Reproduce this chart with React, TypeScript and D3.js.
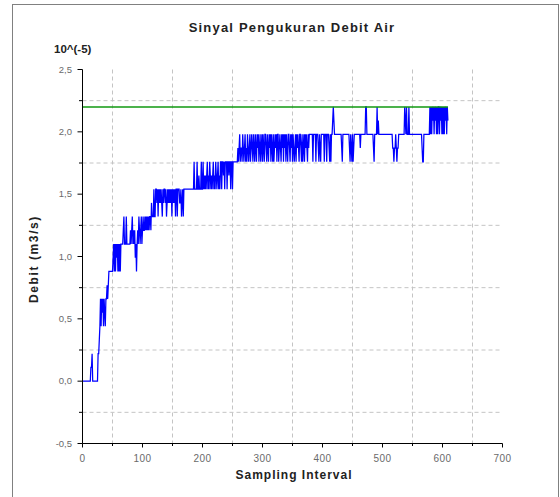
import React from 'react';
import * as d3 from 'd3';

const chartTitle = 'Sinyal Pengukuran Debit Air';
const yUnitLabel = '10^(-5)';
const yAxisTitle = 'Debit (m3/s)';
const xAxisTitle = 'Sampling Interval';

const xTicks = [0, 100, 200, 300, 400, 500, 600, 700];
const xMinorTicks = [50, 150, 250, 350, 450, 550, 650];
const yTicks = [-0.5, 0, 0.5, 1, 1.5, 2, 2.5];
const yMinorTicks = [-0.25, 0.25, 0.75, 1.25, 1.75, 2.25];

// quantised levels seen in the signal (x 10^-5 m3/s)
const debitLevels = [0, 0.11, 0.22, 0.33, 0.44, 0.55, 0.66, 0.77, 0.88, 0.99, 1.1, 1.21, 1.32, 1.43, 1.54, 1.65, 1.76, 1.87, 1.98, 2.09, 2.2];
const levelKeys = '0123456789abcdefghijk';

// one character per sample, index into debitLevels
const debitSegments = [
  '00000000000000112000000000', // 0-25
  '2234646564654667678888888', // 26-50
  '9a8a8a9a8a8a8a', // 51-64
  'aaabcaaacaaaaa', // 65-78
  'ababcabab9a8abacbabcabcbbcbcbcbcbccb', // 79-114
  'dcccecce', // 115-122
  'edecedededcedeedecdedededeceded', // 123-153
  'eceeceeeddecdece', 'eeeeeeeeeeeeeee', // 154-184
  'egeeeegeefeeegeegefe', // 185-204
  'fefgefegfefefgefegfefgefe', // 205-229
  'ggeggfgegggeggfggegge', // 230-250
  'gggggggg', // 251-258
  'hghighhgihghighgihgh', // 259-278
  'ighihgihgi', 'hgihighigh', 'igihgiihgi', 'hgihigihgi', 'ghihigiigh',
  'ihgihigihi', 'gihgiihgih', 'igihghigih', 'ihgiihgigh', 'igihihgihi', // 279-378
  'iiiii', 'giiiigiiihgihgiiiiigiiigiiihgigii', // 379-416
  'jkj', // 417-419
  'iiiiiiiiiiii', 'hg', 'iiiiiiiiiii', 'hgihgigh', 'iiiiiiiiii', 'h', 'iiiiiiii', 'kk',
  'iiiiiiiiiii', 'hg', 'iiii', 'kiji', 'iiiiiiiiiiiiiiiiiiiiii', 'hhghhihghh',
  'iiiiiiiiii', 'kjikiiik', 'iiiiiiiiiiiiiiiiiiiii', 'hgg', 'iiiiiiiiii', // 420-578
  'kikikjkikjkikikkikjkikikikjkikj', // 579-609
];
const setpointValue = 2.2;

const W = 560;
const H = 497;
const FONT = "'Liberation Sans', Arial, sans-serif";

export default function App() {
  const samples = debitSegments
    .join('')
    .split('')
    .map((c) => debitLevels[levelKeys.indexOf(c)]);

  const x = d3.scaleLinear().domain([0, 700]).range([82.5, 502.5]);
  const y = d3.scaleLinear().domain([-0.5, 2.5]).range([443.5, 69.5]);

  const line = d3
    .line<number>()
    .x((_, i) => x(i))
    .y((d) => y(d));

  const setLine = d3
    .line<number>()
    .x((d) => x(d))
    .y(() => y(setpointValue));

  const fmt = (v: number) => d3.format('.1f')(v).replace('.', ',').replace('−', '-');

  const x0 = x(0);
  const yb = y(-0.5);

  return (
    <svg
      width={W}
      height={H}
      style={{ position: 'absolute', left: 0, top: 0, background: '#fff' }}
      fontFamily={FONT}
    >
      <rect x={0} y={0} width={W} height={H} fill="#fff" />
      <rect x={12.5} y={4.5} width={546} height={H} fill="none" stroke="#808080" strokeWidth={1} />

      {/* grid */}
      {xMinorTicks.map((t) => (
        <line key={'gx' + t} x1={x(t)} x2={x(t)} y1={y(2.5)} y2={yb} stroke="#c4c4c4" strokeDasharray="4,3" />
      ))}
      {yMinorTicks.map((t) => (
        <line key={'gy' + t} x1={x0} x2={x(700)} y1={y(t)} y2={y(t)} stroke="#c4c4c4" strokeDasharray="4,3" />
      ))}

      {/* signal */}
      <path d={line(samples) || ''} fill="none" stroke="#0000ff" strokeWidth={1.25} strokeLinejoin="miter" />
      <path d={setLine([0, samples.length - 1]) || ''} fill="none" stroke="#119911" strokeWidth={1.5} />

      {/* axes */}
      <line x1={x0} x2={x0} y1={y(2.5)} y2={yb} stroke="#000" />
      <line x1={x0} x2={x(700)} y1={yb} y2={yb} stroke="#000" />
      {yTicks.map((t) => (
        <g key={'yt' + t}>
          <line x1={x0 - 5} x2={x0} y1={y(t)} y2={y(t)} stroke="#000" />
          <text x={72} y={y(t)} dy="0.35em" textAnchor="end" fontSize={9.5} fill="#6a6a6a">
            {fmt(t)}
          </text>
        </g>
      ))}
      {yMinorTicks.map((t) => (
        <line key={'ym' + t} x1={x0 - 3.5} x2={x0} y1={y(t)} y2={y(t)} stroke="#000" />
      ))}
      {xTicks.map((t) => (
        <g key={'xt' + t}>
          <line x1={x(t)} x2={x(t)} y1={yb} y2={yb + 4} stroke="#000" />
          <text x={x(t)} y={462} textAnchor="middle" fontSize={10} letterSpacing={0.5} fill="#6a6a6a">
            {t}
          </text>
        </g>
      ))}
      {xMinorTicks.map((t) => (
        <line key={'xm' + t} x1={x(t)} x2={x(t)} y1={yb} y2={yb + 2.5} stroke="#000" />
      ))}

      {/* texts */}
      <text x={292} y={32} textAnchor="middle" fontSize={13} fontWeight="bold" letterSpacing={1.2} fill="#222">
        {chartTitle}
      </text>
      <text x={54} y={52.5} fontSize={11.5} fontWeight="bold" fill="#222">
        {yUnitLabel}
      </text>
      <text
        transform={`translate(38,259) rotate(-90)`}
        textAnchor="middle"
        fontSize={12}
        fontWeight="bold"
        letterSpacing={1.6}
        fill="#222"
      >
        {yAxisTitle}
      </text>
      <text x={294} y={479} textAnchor="middle" fontSize={12} fontWeight="bold" letterSpacing={1} fill="#222">
        {xAxisTitle}
      </text>
    </svg>
  );
}
